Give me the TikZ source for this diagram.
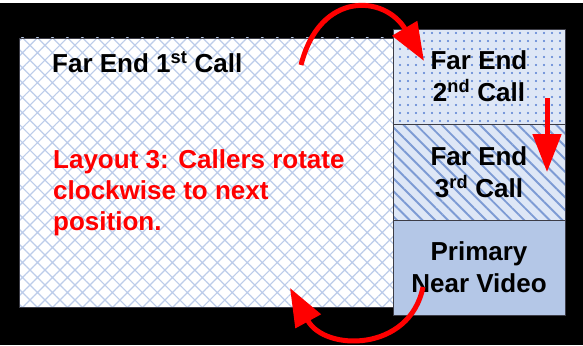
\documentclass[tikz,border=0pt]{standalone}
\usepackage{fontspec}
\setmainfont{Liberation Sans}
\usepackage{tikz}
\usetikzlibrary{positioning,arrows.meta,patterns.meta}
\definecolor{hatchblue}{RGB}{180,199,231}
\definecolor{crossblue}{RGB}{188,204,234}
\definecolor{paleblue}{RGB}{222,231,246}
\definecolor{dotblue}{RGB}{85,125,210}
\definecolor{stripeblue}{RGB}{125,155,212}
\definecolor{boxgray}{RGB}{60,60,70}
\tikzset{
  callbox/.style={draw=boxgray,line width=0.8pt,rectangle,inner sep=0pt,outer sep=0pt,
    minimum width=172pt,align=center,font=\fontsize{26}{32}\selectfont\bfseries},
  rotarrow/.style={red,line width=5pt,-{Triangle[length=38pt,width=28pt]}}
}
\begin{document}
\begin{tikzpicture}[x=1pt,y=-1pt]
\useasboundingbox (0,0) rectangle (583,345);
\fill[white] (0,0) rectangle (583,3);
\fill[black] (0,3) rectangle (583,345);
% far end windows
\node[callbox,minimum width=374pt,minimum height=269pt,preaction={fill=white},
  pattern={Hatch[angle=45,distance=10.6pt,line width=1.2pt]},pattern color=crossblue]
  (first) at (206,172.5) {};
\node[callbox,minimum height=95pt,preaction={fill=paleblue},
  pattern={Dots[distance=8pt,radius=1.1pt]},pattern color=dotblue]
  (second) at (479,76.5) {Far End\\2\textsuperscript{nd} Call};
\node[callbox,minimum height=96pt,preaction={fill=paleblue},
  pattern={Lines[angle=-45,distance=9pt,line width=1.9pt]},pattern color=stripeblue]
  (third) at (479,172) {Far End\\3\textsuperscript{rd} Call};
\node[callbox,minimum height=95pt,fill=hatchblue] (near) at (479,267.5) {Primary\\Near Video};
\node[anchor=base west,inner sep=0pt,font=\fontsize{26}{30}\selectfont\bfseries]
  (firstlbl) at (52,73) {Far End 1\textsuperscript{st} Call};
\node[anchor=base west,inner sep=0pt,align=left,red,font=\fontsize{26}{31}\selectfont\bfseries]
  (layout) at (53,230) {Layout 3: Callers rotate\\clockwise to next\\position.};
% rotation arrows
\coordinate (s1) at (301,65); \coordinate (e1) at (424,61);
\coordinate (s2) at (547,98); \coordinate (e2) at (547,172);
\coordinate (s3) at (423,287); \coordinate (e3) at (290,288);
\draw[rotarrow] (s1) .. controls (320,-10) and (385,-5) .. (e1);
\draw[rotarrow] (s2) -- (e2);
\draw[rotarrow] (s3) .. controls (410,352) and (325,352) .. (e3);
\end{tikzpicture}
\end{document}
